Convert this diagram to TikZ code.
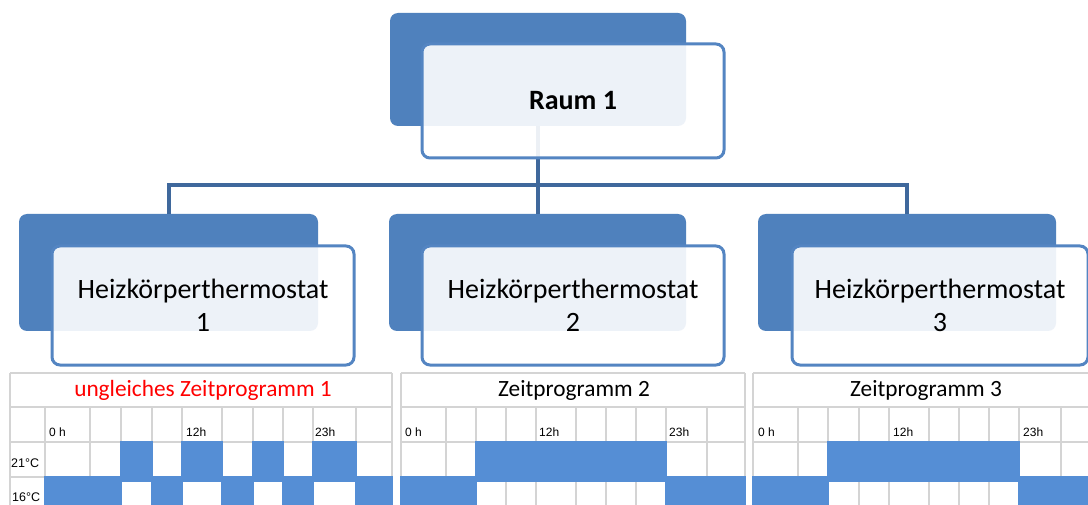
\documentclass[tikz,border=0pt]{standalone}
\usepackage{fontspec}
\setmainfont{Carlito}
\newfontfamily\tabfont{Liberation Sans}
\definecolor{boxblue}{RGB}{79,129,189}
\definecolor{rimblue}{RGB}{84,133,194}
\definecolor{linkblue}{RGB}{63,104,156}
\definecolor{cellblue}{RGB}{85,142,213}
\definecolor{gridgray}{RGB}{212,212,212}
\begin{document}
\begin{tikzpicture}[x=1pt,y=-1pt,
  backbox/.style={anchor=north west,fill=boxblue,rounded corners=8pt,inner sep=0pt,outer sep=0pt},
  frontbox/.style={anchor=north west,draw=rimblue,line width=3pt,fill=white,fill opacity=0.9,
    text opacity=1,rounded corners=8pt,inner sep=0pt,align=center,
    font=\fontsize{28}{33}\selectfont},
  conn/.style={draw=linkblue,line width=4pt},
  grid/.style={draw=gridgray,line width=1.5pt},
  slot/.style={fill=cellblue},
  title/.style={font=\fontsize{23.3}{26}\selectfont,inner sep=0pt},
  hdr/.style={anchor=west,font=\tabfont\fontsize{12}{14}\selectfont,inner sep=0pt},
  rowlbl/.style={anchor=west,font=\tabfont\fontsize{12.5}{14}\selectfont,inner sep=0pt}]
\useasboundingbox (0,0) rectangle (1088,505);
\clip (0,0) rectangle (1088,505);
\fill[white] (0,0) rectangle (1088,505);

% ---- back plates of the hierarchy boxes
\node[backbox,minimum width=296,minimum height=113] (rootback) at (390,13) {};
\node[backbox,minimum width=299,minimum height=117] (c1back) at (19,214) {};
\node[backbox,minimum width=297,minimum height=117] (c2back) at (389,214) {};
\node[backbox,minimum width=298,minimum height=117] (c3back) at (758,214) {};

% ---- connectors (behind the translucent front boxes)
\coordinate (bus) at (0,185);
\draw[conn] (rootback.south) -- (rootback.south |- bus) -| (c1back.north);
\draw[conn] (rootback.south) -- (rootback.south |- bus) -| (c2back.north);
\draw[conn] (rootback.south) -- (rootback.south |- bus) -| (c3back.north);

% ---- front boxes
\node[frontbox,minimum width=302,minimum height=114,font=\bfseries\fontsize{28}{33}\selectfont] (root) at (420.5,42.5) {Raum 1};
\node[frontbox,minimum width=302,minimum height=119] (c1) at (50.5,244.5) {Heizkörperthermostat\\1};
\node[frontbox,minimum width=302,minimum height=119] (c2) at (420.5,244.5) {Heizkörperthermostat\\2};
\node[frontbox,minimum width=296,minimum height=119] (c3) at (790.5,244.5) {Heizkörperthermostat\\3};

% ---- time program 1
\foreach \y in {373,407,442,477} \draw[grid] (10,\y) -- (392,\y);
\draw[grid] (10,373) -- (10,512);
\draw[grid] (392,373) -- (392,512);
\foreach \x in {45,90,121,152,182,222,253,283,313,356} \draw[grid] (\x,407) -- (\x,512);
\foreach \a/\b/\r in {121/152/442,182/222/442,253/283/442,313/356/442,
                      45/121/477,152/182/477,222/253/477,283/313/477,356/392/477}
  \fill[slot] ({\a-0.75},{\r-0.75}) rectangle ({\b+0.75},{\r+40});
\node[title,text=red] (t1) at (203,390) {ungleiches Zeitprogramm 1};
\node[hdr] (h10) at (49,432) {0 h};
\node[hdr] (h112) at (186,432) {12h};
\node[hdr] (h123) at (315,432) {23h};
\node[rowlbl] (r21) at (11,463) {21°C};
\node[rowlbl] (r16) at (12,497) {16°C};

% ---- time program 2
\foreach \y in {373,407,442,477} \draw[grid] (401,\y) -- (745,\y);
\draw[grid] (401,373) -- (401,512);
\draw[grid] (745,373) -- (745,512);
\foreach \x in {446,476,506,536,576,606,636,666,707} \draw[grid] (\x,407) -- (\x,512);
\foreach \a/\b/\r in {476/666/442,401/476/477,666/745/477}
  \fill[slot] ({\a-0.75},{\r-0.75}) rectangle ({\b+0.75},{\r+40});
\node[title] (t2) at (574,390) {Zeitprogramm 2};
\node[hdr] (h20) at (405,432) {0 h};
\node[hdr] (h212) at (539,432) {12h};
\node[hdr] (h223) at (669,432) {23h};

% ---- time program 3
\foreach \y in {373,407,442,477} \draw[grid] (753,\y) -- (1099,\y);
\draw[grid] (753,373) -- (753,512);
\foreach \x in {798,828,859,889,929,959,989,1019,1061} \draw[grid] (\x,407) -- (\x,512);
\foreach \a/\b/\r in {828/1019/442,753/828/477,1019/1099/477}
  \fill[slot] ({\a-0.75},{\r-0.75}) rectangle ({\b+0.75},{\r+40});
\node[title] (t3) at (926,390) {Zeitprogramm 3};
\node[hdr] (h30) at (758,432) {0 h};
\node[hdr] (h312) at (893,432) {12h};
\node[hdr] (h323) at (1023,432) {23h};
\end{tikzpicture}
\end{document}
